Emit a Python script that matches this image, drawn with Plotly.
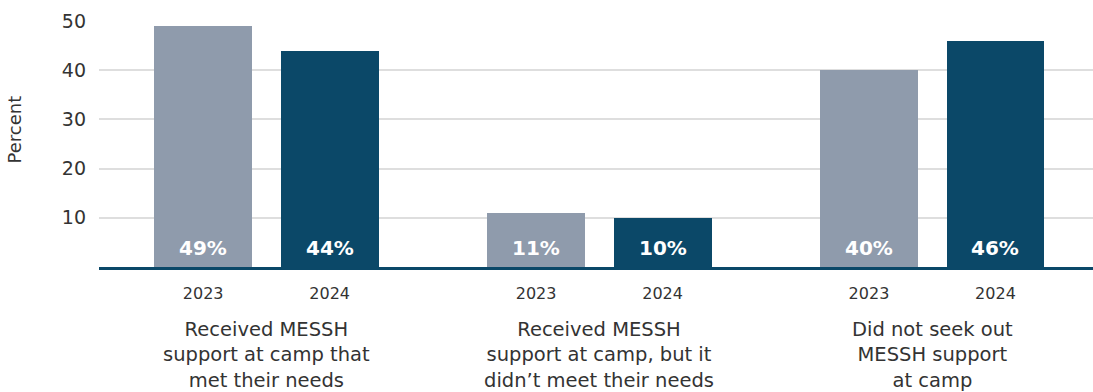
import plotly.graph_objects as go

categories = ["Received MESSH<br>support at camp that<br>met their needs",
              "Received MESSH<br>support at camp, but it<br>didn’t meet their needs",
              "Did not seek out<br>MESSH support<br>at camp"]
years = ["2023", "2024"]
values_2023 = [49, 11, 40]
values_2024 = [44, 10, 46]
yticks = [10, 20, 30, 40, 50]

GRAY = "#8f9bac"
DARK = "#0b4868"
TEXT = "#333333"
FONT = "DejaVu Sans"
offset = 0.19
bw = 0.294

fig = go.Figure()
group_idx = list(range(len(categories)))
for yr, vals, col, sgn in [(years[0], values_2023, GRAY, -1), (years[1], values_2024, DARK, 1)]:
    xs = [g + sgn * offset for g in group_idx]
    fig.add_trace(go.Bar(x=xs, y=vals, width=bw, marker=dict(color=col, line=dict(width=0)),
                         name=yr, showlegend=False, hoverinfo="skip"))
    for x, v in zip(xs, vals):
        fig.add_annotation(x=x, y=0, xref="x", yref="y", text=f"<b>{v}%</b>", showarrow=False,
                           yanchor="bottom", yshift=5,
                           font=dict(family=FONT, size=20, color="white"))

tickvals = []
ticktext = []
for g in group_idx:
    tickvals += [g - offset, g + offset]
    ticktext += years

for g, c in zip(group_idx, categories):
    fig.add_annotation(x=g, y=-0.2, xref="x", yref="paper", text=c, showarrow=False,
                       yanchor="top", align="center",
                       font=dict(family=FONT, size=19.5, color=TEXT))

fig.add_annotation(x=-0.085, y=0.557, xref="paper", yref="paper", text="Percent", textangle=-90,
                   showarrow=False, xanchor="center", yanchor="middle",
                   font=dict(family=FONT, size=18, color=TEXT))

fig.update_layout(
    width=1093, height=392,
    margin=dict(l=99, r=0, t=21, b=125),
    plot_bgcolor="white", paper_bgcolor="white",
    bargap=0,
    xaxis=dict(range=[-0.503, 2.483], tickvals=tickvals, ticktext=ticktext,
               showgrid=False, zeroline=False, showline=True, linewidth=3, linecolor=DARK,
               ticks="", ticklabelstandoff=10,
               tickfont=dict(family=FONT, size=16, color=TEXT)),
    yaxis=dict(range=[0, 50], tickvals=yticks, showgrid=True, gridcolor="#dedede", gridwidth=2,
               zeroline=False, showline=False, ticks="", ticklabelstandoff=12,
               tickfont=dict(family=FONT, size=19, color=TEXT)),
)
fig.write_html("out.html", config={"displayModeBar": False},
               post_script="document.body.style.margin='0';")
